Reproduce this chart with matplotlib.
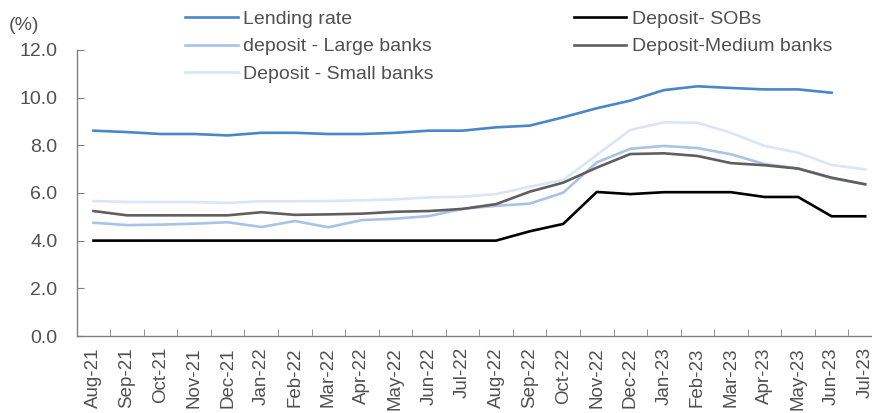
import numpy as np
import matplotlib.pyplot as plt

plt.rcParams['font.family'] = ['Liberation Sans', 'DejaVu Sans']

months = ['Aug-21', 'Sep-21', 'Oct-21', 'Nov-21', 'Dec-21', 'Jan-22', 'Feb-22',
          'Mar-22', 'Apr-22', 'May-22', 'Jun-22', 'Jul-22', 'Aug-22', 'Sep-22',
          'Oct-22', 'Nov-22', 'Dec-22', 'Jan-23', 'Feb-23', 'Mar-23', 'Apr-23',
          'May-23', 'Jun-23', 'Jul-23']

lending = [8.61, 8.55, 8.47, 8.47, 8.41, 8.52, 8.52, 8.47, 8.47, 8.52, 8.61, 8.61,
           8.75, 8.82, 9.17, 9.55, 9.87, 10.31, 10.47, 10.40, 10.34, 10.34, 10.20, np.nan]
dep_large = [4.75, 4.65, 4.67, 4.71, 4.77, 4.57, 4.82, 4.56, 4.86, 4.92, 5.03, 5.33,
             5.46, 5.55, 6.01, 7.28, 7.85, 7.97, 7.88, 7.62, 7.21, 7.03, 6.61, 6.37]
dep_small = [5.66, 5.62, 5.62, 5.62, 5.58, 5.65, 5.65, 5.66, 5.69, 5.73, 5.81, 5.84,
             5.95, 6.26, 6.54, 7.59, 8.64, 8.96, 8.94, 8.52, 7.97, 7.69, 7.17, 6.99]
dep_sobs = [4.0, 4.0, 4.0, 4.0, 4.0, 4.0, 4.0, 4.0, 4.0, 4.0, 4.0, 4.0,
            4.0, 4.39, 4.70, 6.04, 5.95, 6.03, 6.03, 6.03, 5.83, 5.83, 5.02, 5.02]
dep_medium = [5.24, 5.06, 5.06, 5.06, 5.06, 5.19, 5.08, 5.10, 5.13, 5.21, 5.24, 5.33,
              5.53, 6.05, 6.43, 7.06, 7.63, 7.66, 7.55, 7.25, 7.16, 7.02, 6.64, 6.36]

TXT = '#505050'
FS = 14

fig = plt.figure(figsize=(8.72, 4.13), dpi=100)
ax = fig.add_axes([0.088, 0.1864, 0.9234, 0.693])

x = np.arange(len(months))
lw = 1.9
l1, = ax.plot(x, lending, color='#4A86C8', lw=lw, label='Lending rate')
l2, = ax.plot(x, dep_large, color='#A9C2E8', lw=lw, label='deposit - Large banks')
l3, = ax.plot(x, dep_small, color='#DAE5F6', lw=lw, label='Deposit - Small banks')
l5, = ax.plot(x, dep_medium, color='#5F5F5F', lw=lw, label='Deposit-Medium banks')
l4, = ax.plot(x, dep_sobs, color='black', lw=lw, label='Deposit- SOBs')

ax.set_xlim(-0.5, len(months) - 0.5)
ax.set_ylim(0, 12)
ax.set_yticks(np.arange(0, 12.1, 2))
ax.set_yticklabels([f'{v:.1f}' for v in np.arange(0, 12.1, 2)])
ax.set_xticks(x)
ax.set_xticklabels(months, rotation=90)
ax.set_xticks(np.arange(0.5, len(months) - 0.5), minor=True)

for s in ['top', 'right']:
    ax.spines[s].set_visible(False)
for s in ['left', 'bottom']:
    ax.spines[s].set_color('#7F7F7F')
    ax.spines[s].set_linewidth(1.0)

ax.tick_params(axis='x', which='major', length=0, pad=8, labelsize=13.5, labelcolor=TXT)
ax.tick_params(axis='x', which='minor', direction='in', length=5, color='#7F7F7F')
ax.tick_params(axis='y', direction='in', length=5, pad=14, labelsize=FS,
               labelcolor=TXT, color='#7F7F7F')

fig.text(9 / 872, 1 - 26 / 413, '(%)', fontsize=FS, color=TXT, va='center', ha='left')

leg = fig.legend(handles=[l1, l2, l3, l4, l5], ncol=2, frameon=False,
                 loc='upper left', bbox_to_anchor=(185 / 872, 1 - 10 / 413),
                 fontsize=FS, handlelength=2.7, handletextpad=0.3,
                 columnspacing=7.2, labelspacing=0.52, borderpad=0, borderaxespad=0)
for t in leg.get_texts():
    t.set_color(TXT)

fig.savefig('out.png', dpi=100)
